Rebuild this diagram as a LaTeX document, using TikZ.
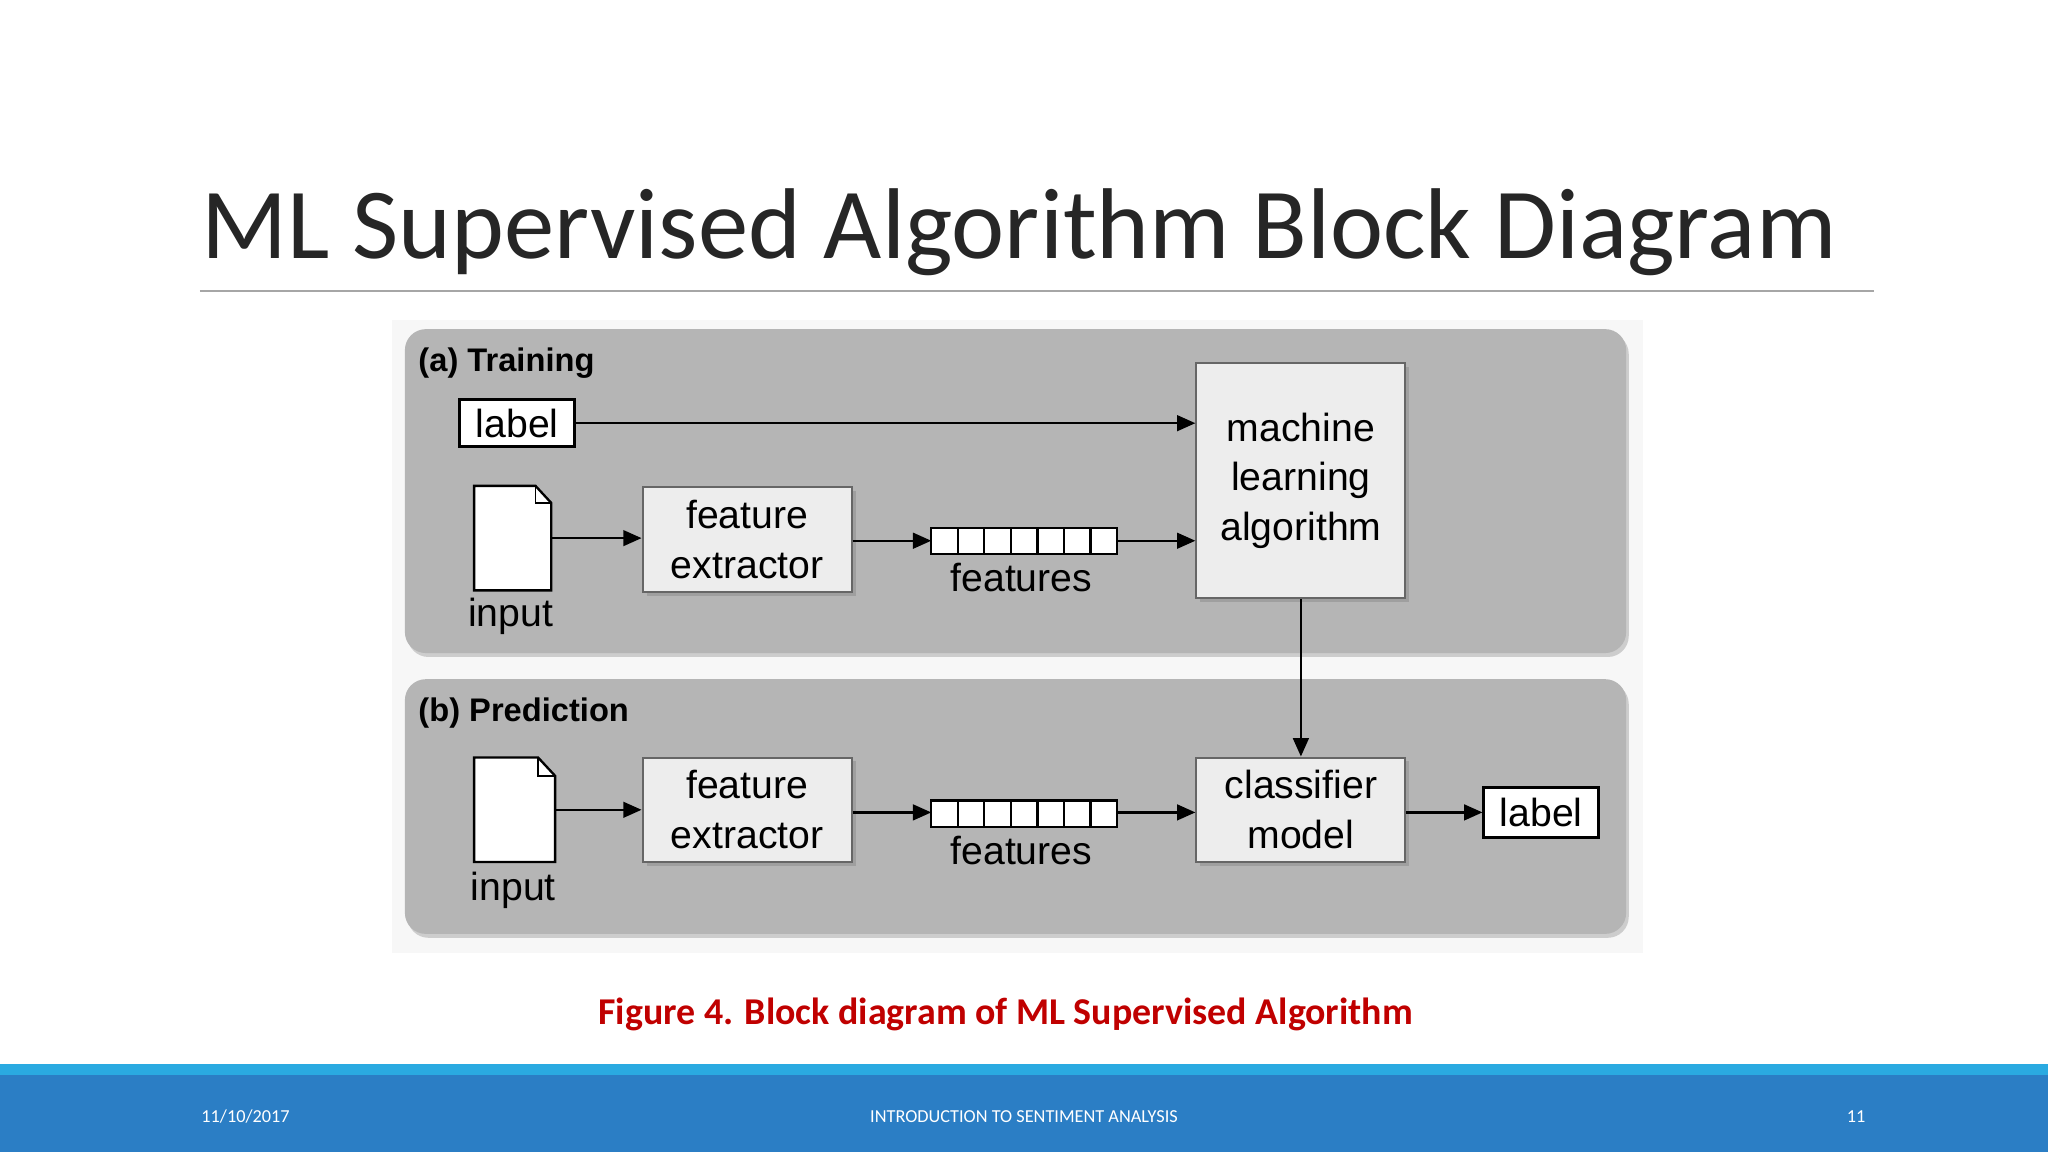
\documentclass[tikz,border=0pt]{standalone}
\usepackage{fontspec}
\setmainfont{Carlito}
\newfontfamily\diag{Liberation Sans}
\usetikzlibrary{arrows.meta,shadows}
\definecolor{panel}{HTML}{B5B5B5}
\definecolor{boxf}{HTML}{EDEDED}
\definecolor{capred}{HTML}{C00000}
\definecolor{footblue}{HTML}{2B7EC5}
\definecolor{footlight}{HTML}{2AAAE1}
\begin{document}
\begin{tikzpicture}[x=0.5pt,y=0.5pt,yscale=-1,
  pnl/.style={fill=panel,rounded corners=8pt,drop shadow={shadow xshift=1pt,shadow yshift=-1.5pt,opacity=0.35}},
  blk/.style={draw=black!60,fill=boxf,line width=0.8pt,drop shadow={shadow xshift=1.5pt,shadow yshift=-1.5pt,opacity=0.4},font=\diag\fontsize{15}{19}\selectfont,align=center,inner sep=0pt},
  lbl/.style={draw=black,fill=white,line width=1pt,font=\diag\fontsize{15}{19}\selectfont,inner sep=0pt},
  txt/.style={font=\diag\fontsize{15}{19}\selectfont,inner sep=0pt},
  hd/.style={font=\diag\bfseries\fontsize{12.5}{15}\selectfont,anchor=west,inner sep=0pt},
  arr/.style={-{Triangle[length=7pt,width=6pt]},line width=0.9pt},
  foot/.style={text=white,font=\fontsize{7}{8}\selectfont,inner sep=0pt}]
\useasboundingbox (0,0) rectangle (1568,882);
\fill[white] (0,0) rectangle (1568,882);
% title
\node[anchor=base west,inner sep=0pt,text=black!85,font=\fontsize{38.5}{46}\selectfont] (title) at (154,198) {ML Supervised Algorithm Block Diagram};
\draw[black!35,line width=0.6pt] (153,223) -- (1435,223);
% image background
\fill[black!3] (300,245) rectangle (1258,730);
% panels
\path[pnl] (310,252) rectangle (1245,500);
\path[pnl] (310,520) rectangle (1245,715);
\node[hd] (ha) at (320,278) {(a) Training};
\node[hd] (hb) at (320,546) {(b) Prediction};
% ---- training
\node[lbl,minimum width=44pt,minimum height=18pt] (la) at (396,324) {label};
\node[blk,minimum width=80pt,minimum height=90pt] (ml) at (996,368) {machine\\learning\\algorithm};
\draw[fill=white,line width=0.9pt] (363,372) -- (410,372) -- (422,385) -- (422,452) -- (363,452) -- cycle;
\draw[line width=0.6pt] (410,372) -- (410,385) -- (422,385);
\coordinate (da) at (422,412);
\node[txt] (ia) at (391,472) {input};
\node[blk,minimum width=80pt,minimum height=40pt] (fa) at (572,413) {feature\\extractor};
\foreach \i in {0,...,6}{\draw[fill=white,line width=0.9pt] (713+\i*20.3,404) rectangle ++(20.3,20);}
\coordinate (sa1) at (713,414); \coordinate (sa2) at (855,414);
\node[txt] (fta) at (782,442) {features};
\draw[arr] (la) -- (ml.west |- la);
\draw[arr] (da) -- (fa.west |- da);
\draw[arr] (fa.east |- sa1) -- (sa1);
\draw[arr] (sa2) -- (ml.west |- sa2);
% ---- prediction
\node[blk,minimum width=80pt,minimum height=40pt] (cm) at (996,620) {classifier\\model};
\draw[arr] (ml) -- (cm);
\draw[fill=white,line width=0.9pt] (363,580) -- (412,580) -- (425,594) -- (425,660) -- (363,660) -- cycle;
\draw[line width=0.6pt] (412,580) -- (412,594) -- (425,594);
\coordinate (db) at (425,620);
\node[txt] (ib) at (393,682) {input};
\node[blk,minimum width=80pt,minimum height=40pt] (fb) at (572,620) {feature\\extractor};
\foreach \i in {0,...,6}{\draw[fill=white,line width=0.9pt] (713+\i*20.3,613) rectangle ++(20.3,20);}
\coordinate (sb1) at (713,622); \coordinate (sb2) at (855,622);
\node[txt] (ftb) at (782,651) {features};
\node[lbl,minimum width=44pt,minimum height=19pt] (lb) at (1180,622) {label};
\draw[arr] (db) -- (fb.west |- db);
\draw[arr] (fb.east |- sb1) -- (sb1);
\draw[arr] (sb2) -- (cm.west |- sb2);
\draw[arr] (cm.east |- lb) -- (lb);
% caption
\node[text=capred,font=\bfseries\fontsize{14.5}{17}\selectfont,inner sep=0pt] (cap) at (770,777) {Figure 4. Block diagram of ML Supervised Algorithm};
% footer
\fill[footlight] (0,815) rectangle (1568,823);
\fill[footblue] (0,823) rectangle (1568,882);
\node[foot] (f1) at (188,855) {11/10/2017};
\node[foot] (f2) at (784,855) {INTRODUCTION TO SENTIMENT ANALYSIS};
\node[foot] (f3) at (1421,855) {11};
\end{tikzpicture}
\end{document}
